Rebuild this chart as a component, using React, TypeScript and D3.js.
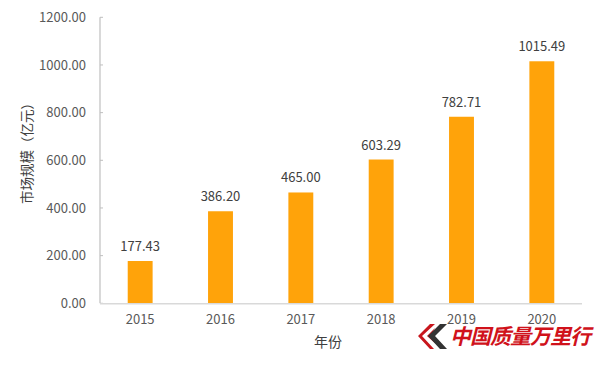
import React from "react";
import * as d3 from "d3";

const years = ["2015", "2016", "2017", "2018", "2019", "2020"];
const values = [177.43, 386.2, 465.0, 603.29, 782.71, 1015.49];
const yTicks = [0, 200, 400, 600, 800, 1000, 1200];

export default function App() {
  const W = 600, H = 366;
  const left = 100, right = 582, top = 17.3, bottom = 303.3;
  const x = d3.scaleBand<string>().domain(years).range([left, right]).paddingInner(0.69).paddingOuter(0.345);
  const y = d3.scaleLinear().domain([0, 1200]).range([bottom, top]);
  const font = "'Noto Sans CJK SC', 'Noto Sans', sans-serif";
  const txt = "#595959";
  return (
    <div style={{ position: "absolute", left: 0, top: 0 }}>
      <svg width={W} height={H} style={{ display: "block", background: "#fff" }} fontFamily={font}>
        {/* y axis */}
        <line x1={left} x2={left} y1={top} y2={bottom} stroke="#BFBFBF" strokeWidth={1.2} />
        {yTicks.map((t) => (
          <g key={t}>
            <line x1={left} x2={left + 3} y1={y(t)} y2={y(t)} stroke="#BFBFBF" strokeWidth={1} />
            <text x={86} y={y(t)} dy="0.36em" textAnchor="end" fontSize={13} fill={txt}>
              {d3.format(".2f")(t)}
            </text>
          </g>
        ))}
        {/* bars */}
        {years.map((yr, i) => (
          <g key={yr}>
            <rect x={x(yr)} y={y(values[i])} width={x.bandwidth()} height={bottom - y(values[i])} fill="#FFA30A" />
            <text x={(x(yr) as number) + x.bandwidth() / 2} y={y(values[i]) - 10} textAnchor="middle" fontSize={13} fill="#404040">
              {d3.format(".2f")(values[i])}
            </text>
            <text x={(x(yr) as number) + x.bandwidth() / 2} y={319} dy="0.36em" textAnchor="middle" fontSize={13} fill={txt}>
              {yr}
            </text>
          </g>
        ))}
        {/* x axis */}
        <line x1={left} x2={right} y1={bottom + 0.5} y2={bottom + 0.5} stroke="#D9D9D9" strokeWidth={1.5} />
        {/* axis titles */}
        <text x={328} y={342} dy="0.36em" textAnchor="middle" fontSize={14} fill="#404040">年份</text>
        <text transform="translate(27,150) rotate(-90)" textAnchor="middle" dy="0.36em" fontSize={13.5} fill="#404040">市场规模（亿元）</text>
        {/* watermark logo */}
        <g>
          <path d="M435,324 L422,336 L434,349 L430,349 L418,336 L430,324 Z" fill="#C8161D" />
          <path d="M427,336 L435,328 L431,336 L436,344 Z" fill="#C8161D" />
          <path d="M447,324 L435,336 L447,349 L440,349 L428,336 L440,324 Z" fill="#333" />
          <text x={450} y={336} dy="0.36em" fontSize={21} fill="#D0121B" fontFamily="'Noto Sans CJK SC', serif" fontWeight="bold" fontStyle="italic" letterSpacing={-1}>中国质量万里行</text>
        </g>
      </svg>
    </div>
  );
}
